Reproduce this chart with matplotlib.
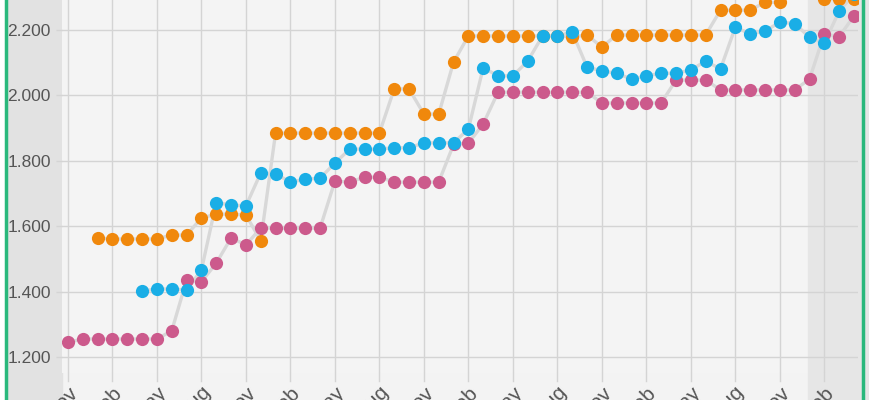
import numpy as np
import matplotlib
matplotlib.use('Agg')
import matplotlib.pyplot as plt
import matplotlib.transforms as mtransforms
from matplotlib.patches import Rectangle
from matplotlib.lines import Line2D

# monthly points, month 0 = first "Nov"
months = np.arange(54)
tick_months = np.arange(0, 54, 3)
tick_names = ['Nov', 'Feb', 'May', 'Aug']

pink = [1245, 1255, 1255, 1255, 1255, 1255, 1255, 1280, 1435, 1430,
        1487, 1564, 1543, 1594, 1594, 1594, 1594, 1594, 1738, 1735,
        1750, 1750, 1735, 1735, 1735, 1735, 1850, 1854, 1913, 2010,
        2010, 2010, 2010, 2010, 2010, 2010, 1977, 1977, 1977, 1977,
        1977, 2047, 2047, 2047, 2017, 2017, 2017, 2017, 2017, 2017,
        2050, 2188, 2180, 2243]

# blue starts at month 5
blue = [np.nan] * 5 + [
        1402, 1408, 1408, 1405, 1466, 1672, 1665, 1662, 1763, 1760,
        1735, 1744, 1747, 1793, 1836, 1836, 1836, 1840, 1840, 1855,
        1855, 1855, 1897, 2085, 2060, 2060, 2105, 2182, 2182, 2194,
        2087, 2075, 2068, 2050, 2060, 2068, 2068, 2078, 2105, 2081,
        2209, 2188, 2197, 2224, 2220, 2178, 2160, 2258, 2310]

# orange starts at month 2
orange = [np.nan] * 2 + [
        1564, 1561, 1561, 1561, 1561, 1573, 1573, 1625, 1637, 1637,
        1634, 1556, 1885, 1885, 1885, 1885, 1885, 1885, 1885, 1885,
        2020, 2020, 1943, 1943, 2102, 2182, 2182, 2182, 2182, 2182,
        2182, 2182, 2179, 2185, 2148, 2185, 2185, 2185, 2185, 2185,
        2185, 2185, 2261, 2261, 2261, 2285, 2285, 2330, 2330, 2295,
        2295, 2295]

yticks = [1200, 1400, 1600, 1800, 2000, 2200]
shade_start = 49.9

col_pink = '#cc5a8c'
col_blue = '#1aaee6'
col_orange = '#f0880c'
linecol = '#d8d8d8'
txtcol = '#555555'

W, H = 870, 400
fig = plt.figure(figsize=(8.7, 4.0), dpi=100)
fig.patch.set_facecolor('#f3f3f3')

ax = fig.add_axes([62/W, 27/H, 796/W, 373/H])
ax.set_facecolor('#f4f4f4')

for s in [pink, orange, blue]:
    ax.plot(months, s, '-', color=linecol, lw=2.4, zorder=2, solid_capstyle='round')
for s, c in [(pink, col_pink), (orange, col_orange), (blue, col_blue)]:
    ax.plot(months, s, 'o', color=c, ms=9.5, mew=0, zorder=3)

# shaded band on the right, running down past the axis to the image bottom
trans = mtransforms.blended_transform_factory(ax.transData, ax.transAxes)
ax.add_patch(Rectangle((shade_start, -0.2), 10, 1.4, transform=trans,
                       color='#e6e6e6', zorder=0, clip_on=False))

ax.set_xlim(-0.4, 53.27)
ax.set_ylim(1151, 2292)
ax.set_yticks(yticks)
ax.set_yticklabels([f'{v//1000}.{v%1000:03d}' for v in yticks])
ax.set_xticks(tick_months)
ax.set_xticklabels([tick_names[i % 4] for i in range(len(tick_months))],
                   rotation=45, ha='right', rotation_mode='anchor')
for sp in ax.spines.values():
    sp.set_visible(False)
ax.grid(color='#d4d4d4', lw=1)
ax.set_axisbelow(True)
ax.tick_params(axis='y', length=4, width=1, color='#d4d4d4', pad=4,
               labelsize=12.5, labelcolor=txtcol)
ax.tick_params(axis='x', length=0, width=1, color='#d4d4d4', pad=7,
               labelsize=15, labelcolor=txtcol)
for lab in ax.get_xticklabels() + ax.get_yticklabels():
    lab.set_fontfamily('Liberation Sans')
# vertical grid lines run a bit below the plot
for m in tick_months:
    ax.plot([m, m], [1151, 1151 - 8/327*1000], color='#d4d4d4', lw=1, clip_on=False, zorder=1)

# grey label strip on the left and the green frame
fig.patches.append(Rectangle((8/W, 0), 54/W, 1, transform=fig.transFigure,
                             color='#e2e2e2', zorder=-1))
fig.patches.append(Rectangle((0, 0), 5/W, 1, transform=fig.transFigure,
                             color='white', zorder=-1))
fig.patches.append(Rectangle((865/W, 0), 5/W, 1, transform=fig.transFigure,
                             color='white', zorder=-1))
fig.lines.append(Line2D([6.5/W, 6.5/W], [0, 1], transform=fig.transFigure,
                        color='#2ab87c', lw=2.5))
fig.lines.append(Line2D([863/W, 863/W], [0, 1], transform=fig.transFigure,
                        color='#2ab87c', lw=2.5))

plt.savefig('out.png', dpi=100, facecolor=fig.get_facecolor())
